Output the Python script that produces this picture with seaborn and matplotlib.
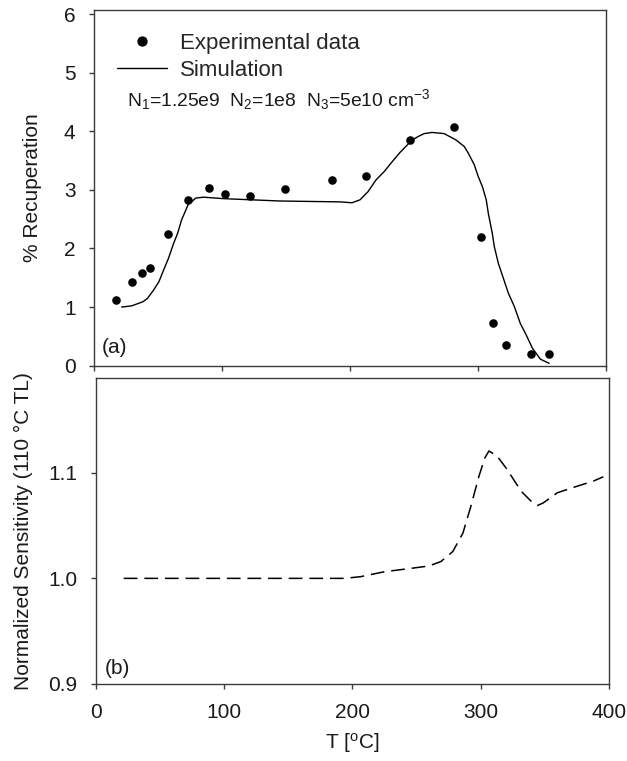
import matplotlib
matplotlib.use("Agg")
import matplotlib.pyplot as plt
import seaborn as sns
import pandas as pd
from matplotlib.lines import Line2D

# ---- data ----
exp_T = [16.6, 29.7, 36.9, 43.8, 57.9, 73.5, 89.2, 102.0, 121.8, 148.7,
         185.3, 212.2, 246.9, 280.8, 302.0, 311.1, 321.4, 340.8, 355.2]
exp_rec = [1.12, 1.43, 1.58, 1.66, 2.24, 2.83, 3.04, 2.93, 2.90, 3.02,
           3.17, 3.24, 3.85, 4.08, 2.19, 0.73, 0.35, 0.20, 0.205]

sim_T = [21.3, 29.1, 37.9, 41.6, 46.3, 50.4, 54.1, 57.9, 62.0, 65.1, 68.2,
         70.4, 73.5, 76.1, 79.2, 85.4, 101.0, 144.9, 191.9, 201.2, 207.5,
         213.8, 220.0, 226.3, 232.6, 238.8, 248.2, 252.9, 257.6, 263.8, 273.2,
         282.6, 288.9, 292.0, 296.7, 299.8, 303.0, 306.1, 307.7, 310.8, 312.4,
         315.5, 323.3, 328.0, 332.7, 337.4, 342.1, 348.4, 355.2]
sim_rec = [1.00, 1.02, 1.09, 1.15, 1.29, 1.43, 1.63, 1.83, 2.09, 2.26, 2.49,
           2.60, 2.76, 2.80, 2.86, 2.875, 2.85, 2.81, 2.795, 2.78, 2.83,
           2.97, 3.17, 3.31, 3.48, 3.64, 3.85, 3.91, 3.96, 3.98, 3.96,
           3.85, 3.74, 3.63, 3.43, 3.23, 3.06, 2.83, 2.60, 2.26, 2.03,
           1.75, 1.24, 1.01, 0.72, 0.52, 0.30, 0.11, 0.04]

sens_T = [21.6, 193.7, 206.3, 225.0, 243.8, 259.5, 268.9, 278.2, 286.1, 292.3,
          298.6, 303.3, 306.4, 312.7, 320.5, 331.5, 339.3, 344.0, 348.7, 359.6,
          375.3, 387.8, 395.6]
sens_val = [1.000, 1.000, 1.0016, 1.0063, 1.0092, 1.0117, 1.0159, 1.0254, 1.0429,
            1.0683, 1.0968, 1.1143, 1.1206, 1.1159, 1.1032, 1.0825, 1.073, 1.0689,
            1.0714, 1.081, 1.0873, 1.0921, 1.0962]

top_yticks = [0, 1, 2, 3, 4, 5, 6]
bot_yticks = [0.9, 1.0, 1.1]
xticks = [0, 100, 200, 300, 400]

labels = ["Experimental data", "Simulation"]
annot = r"N$_1$=1.25e9  N$_2$=1e8  N$_3$=5e10 cm$^{-3}$"

df_exp = pd.DataFrame({"T": exp_T, "rec": exp_rec})
df_sim = pd.DataFrame({"T": sim_T, "rec": sim_rec})
df_sens = pd.DataFrame({"T": sens_T, "val": sens_val})

# ---- style ----
sns.set_theme(style="ticks")
plt.rcParams["font.family"] = ["Liberation Sans", "DejaVu Sans"]
plt.rcParams["mathtext.fontset"] = "custom"
plt.rcParams["mathtext.rm"] = "Liberation Sans"
plt.rcParams["mathtext.it"] = "Liberation Sans:italic"
plt.rcParams["mathtext.default"] = "regular"

spine_c = "#3a3a3a"
text_c = "#1a1a1a"

fig = plt.figure(figsize=(6.27, 7.61), dpi=100)
ax1 = fig.add_axes([0.1504, 0.5195, 0.8169, 0.4674])
ax2 = fig.add_axes([0.1531, 0.1012, 0.8182, 0.4025])

# ---- top panel ----
sns.scatterplot(data=df_exp, x="T", y="rec", ax=ax1, color="black", s=38,
                edgecolor="black", linewidth=0, zorder=3, legend=False)
sns.lineplot(data=df_sim, x="T", y="rec", ax=ax1, color="black", lw=1.0,
             sort=False, legend=False)
ax1.set_xlim(0, 400)
ax1.set_ylim(0, 6.07)
ax1.set_xticks(xticks)
ax1.set_xticklabels([])
ax1.set_yticks(top_yticks)
ax1.set_yticklabels([str(v) for v in top_yticks])
ax1.set_xlabel("")
ax1.set_ylabel("% Recuperation", fontsize=15, color=text_c, labelpad=16)

handles = [Line2D([], [], color="black", marker="o", linestyle="none", markersize=6.4),
           Line2D([], [], color="black", lw=1.0)]
ax1.legend(handles, labels, loc="upper left", bbox_to_anchor=(0.0437, 0.936),
           frameon=False, fontsize=16, borderpad=0, borderaxespad=0,
           handlelength=2.26, handletextpad=0.61, labelspacing=0.29)
ax1.text(0.0633, 0.730, annot, transform=ax1.transAxes, fontsize=13.9,
         color=text_c, va="baseline", ha="left")
ax1.text(0.0144, 0.05, "(a)", transform=ax1.transAxes, fontsize=15,
         color=text_c, va="center", ha="left")

# ---- bottom panel ----
sns.lineplot(data=df_sens, x="T", y="val", ax=ax2, color="black", lw=1.1,
             sort=False, legend=False, linestyle=(0, (9, 4.5)))
ax2.set_xlim(0, 400)
ax2.set_ylim(0.9, 1.19)
ax2.set_xticks(xticks)
ax2.set_xticklabels([str(v) for v in xticks])
ax2.set_yticks(bot_yticks)
ax2.set_yticklabels([f"{v:.1f}" for v in bot_yticks])
ax2.set_xlabel("T [$^{o}$C]", fontsize=15, color=text_c, labelpad=7)
ax2.set_ylabel("Normalized Sensitivity (110 \u00b0C TL)", fontsize=15,
               color=text_c, labelpad=11)
ax2.text(0.0175, 0.049, "(b)", transform=ax2.transAxes, fontsize=15,
         color=text_c, va="center", ha="left")

for ax in (ax1, ax2):
    for sp in ax.spines.values():
        sp.set_visible(True)
        sp.set_color(spine_c)
        sp.set_linewidth(1.0)
    ax.tick_params(axis="both", which="major", direction="out", length=3.5,
                   width=1.0, color=spine_c, labelsize=15, labelcolor=text_c,
                   pad=10, top=False, right=False)
    ax.grid(False)

fig.savefig("out.png", dpi=100)
